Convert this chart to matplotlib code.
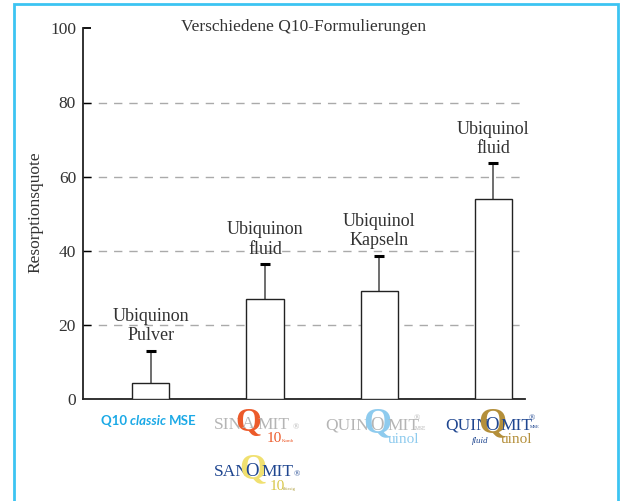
import matplotlib
matplotlib.use("Agg")
import matplotlib.pyplot as plt
from matplotlib.patches import Rectangle

# Daten
kategorien = ["Ubiquinon\nPulver", "Ubiquinon\nfluid", "Ubiquinol\nKapseln", "Ubiquinol\nfluid"]
resorption = [4.3, 27.1, 29.2, 53.9]
fehler = [8.8, 9.4, 9.5, 9.7]
y_ticks = [0, 20, 40, 60, 80, 100]
titel = "Verschiedene Q10-Formulierungen"
y_titel = "Resorptionsquote"

W, H = 622, 501
plt.rcParams['font.family'] = ['Liberation Serif', 'DejaVu Serif']

fig = plt.figure(figsize=(W / 100, H / 100), dpi=100)
ax = fig.add_axes([83 / W, 1 - 399.3 / H, 442 / W, 371 / H])

x = list(range(len(kategorien)))
ax.bar(x, resorption, width=0.325, color='white', edgecolor='#222222', linewidth=1.0, zorder=3)

oben = [r + f for r, f in zip(resorption, fehler)]
ax.vlines(x, resorption, oben, color='#555555', linewidth=1.2, zorder=2)
ax.plot(x, oben, ls='none', marker='_', ms=7, mew=2.2, color='black', zorder=4)

for xi, o, lab in zip(x, oben, kategorien):
    ax.annotate(lab, (xi, o), xytext=(0, 4.5), textcoords='offset points',
                ha='center', va='bottom', fontsize=13, color='#333333', linespacing=1.17)

ax.set_xlim(-0.596, 3.28)
ax.set_ylim(0, 100)
ax.set_yticks(y_ticks)
ax.set_xticks([])
ax.tick_params(axis='y', direction='in', length=6, width=1.3, pad=5, labelsize=12.5,
               labelcolor='#333333')
ax.yaxis.grid(True, linestyle=(0, (6, 5)), color='#aaaaaa', linewidth=1.0, zorder=0)
ax.set_axisbelow(True)
gl = ax.yaxis.get_gridlines()
gl[-1].set_visible(False)
ticks = ax.yaxis.get_major_ticks()
for i, t in enumerate(ticks):
    if i == 0:
        t.tick1line.set_visible(False)
    elif i < len(ticks) - 1:
        t.tick1line.set_color('#aaaaaa')
        t.tick1line.set_markeredgewidth(1.0)

for s in ['top', 'right']:
    ax.spines[s].set_visible(False)
for s in ['left', 'bottom']:
    ax.spines[s].set_linewidth(1.3)
    ax.spines[s].set_color('#222222')


def px(xp, yp, s, **kw):
    kw.setdefault('va', 'baseline')
    kw.setdefault('ha', 'left')
    return fig.text(xp / W, 1 - yp / H, s, **kw)


px(304, 31, titel, ha='center', fontsize=12.5, color='#333333')
px(35, 212, y_titel, ha='center', va='center', rotation=90, fontsize=12.5, color='#333333')

# Rahmen
fig.patches.append(Rectangle((14 / W, -0.1), 604 / W, 1.1 - 4 / H, transform=fig.transFigure,
                             fill=False, edgecolor='#3cc4f2', linewidth=2))

# Produktlogos als Text
sans = ['Lato', 'DejaVu Sans']
blau = '#1ba9e6'
t1 = px(101, 425, "Q10 ", fontsize=9.5, fontweight='bold', color=blau, family=sans)
fig.canvas.draw()
r = fig.canvas.get_renderer()
bb = t1.get_window_extent(r)
t2 = px(bb.x1, 425, "classic ", fontsize=9.5, fontweight='bold', style='italic', color=blau,
        family=sans)
bb2 = t2.get_window_extent(r)
px(bb2.x1, 425, "MSE", fontsize=9.5, fontweight='bold', color=blau, family=sans)

grau = '#b5b5b5'
orange = '#ec5a2a'
px(214, 429, "SIN", fontsize=12.5, color=grau)
px(248, 431, "Q", ha='center', fontsize=24, fontweight='bold', color=orange)
px(248, 428, "A", ha='center', fontsize=12.5, color=grau)
px(257, 429, "MIT", fontsize=12.5, color=grau)
px(293, 429, "®", fontsize=6, color=grau)
px(267, 442, "10", fontsize=11, color=orange)
px(282, 442, "Komb", fontsize=3.5, color=orange)

hellblau = '#8ecbee'
px(325, 430, "QUIN", fontsize=12.5, color=grau)
px(377, 432, "Q", ha='center', fontsize=26, fontweight='bold', color=hellblau)
px(377, 430, "O", ha='center', fontsize=13.5, color=grau)
px(387, 430, "MIT", fontsize=12.5, color=grau)
px(414, 420, "®", fontsize=6, color=grau)
px(415, 430, "MSE", fontsize=4, color=grau)
px(388, 443, "uinol", fontsize=11, color=hellblau)

dunkel = '#1f4690'
gold = '#b48f3a'
px(445, 430, "QUIN", fontsize=12.5, color=dunkel)
px(492, 432, "Q", ha='center', fontsize=26, fontweight='bold', color=gold)
px(492, 430, "O", ha='center', fontsize=13.5, color=dunkel)
px(500, 430, "MIT", fontsize=12.5, color=dunkel)
px(529, 420, "®", fontsize=6, color=dunkel)
px(530, 428, "MSE", fontsize=3.5, color=dunkel)
px(472, 443, "fluid", fontsize=6.5, style='italic', color=dunkel)
px(501, 443, "uinol", fontsize=11, color=gold)

gelb = '#f0e070'
px(214, 476, "SAN", fontsize=12.5, color=dunkel)
px(253, 478, "Q", ha='center', fontsize=25, fontweight='bold', color=gelb)
px(252, 476, "O", ha='center', fontsize=13.5, color=dunkel)
px(261, 476, "MIT", fontsize=12.5, color=dunkel)
px(294, 476, "®", fontsize=6, color=dunkel)
px(270, 490, "10", fontsize=11, color='#d8c84a')
px(283, 490, "flüssig", fontsize=3.5, color='#b0a040')

fig.savefig("out.png", dpi=100)
